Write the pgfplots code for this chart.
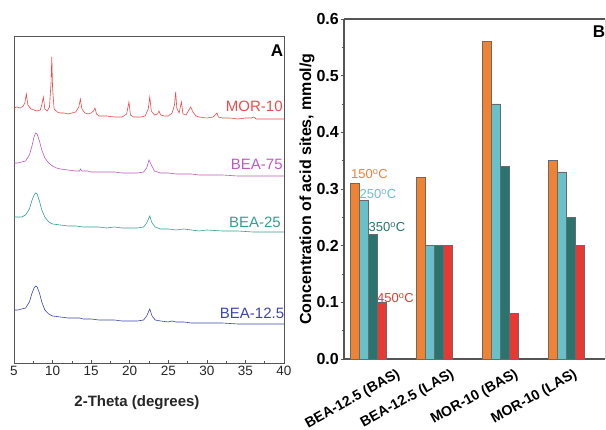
\documentclass[border=0pt]{standalone}
\usepackage{pgfplots}
\pgfplotsset{compat=1.18}
\usepackage{fontspec}
\setmainfont{Liberation Sans}
\definecolor{axgray}{HTML}{555555}
\definecolor{cmor}{HTML}{EB4B4B}
\definecolor{cb75}{HTML}{BE5ABE}
\definecolor{cb25}{HTML}{32A091}
\definecolor{cb12}{HTML}{3C46AA}
\definecolor{c150}{HTML}{F08232}
\definecolor{c250}{HTML}{68C0C8}
\definecolor{c350}{HTML}{2A7470}
\definecolor{c450}{HTML}{E83834}
\definecolor{bardraw}{HTML}{6A6A6A}
\begin{document}
\begin{tikzpicture}[x=1pt,y=1pt]
\useasboundingbox (0,0) rectangle (606,430);
% ---------------- Panel A ----------------
\begin{axis}[at={(14pt,67pt)}, anchor=south west, scale only axis,
  width=270pt, height=327pt,
  xmin=5, xmax=40, ymin=0, ymax=327,
  xtick={5,10,...,40}, minor x tick num=1, ytick=\empty,
  xtick pos=left, tick align=inside,
  major tick length=3pt, minor tick length=2pt,
  axis line style={draw=axgray, line width=0.9pt},
  tick style={draw=axgray, line width=0.6pt},
  /pgf/number format/assume math mode=true,
  xticklabel style={font=\fontsize{13.5}{14}\selectfont, text=black!85},
  clip=false]
\addplot[cmor, line width=0.6pt] coordinates {
(5.0,255)(5.4,256)(5.8,255)(6.2,257)(6.4,260)(6.6,269)(6.8,258)(7.2,254)(7.6,253)(8.0,252)
(8.4,253)(8.6,258)(8.8,266)(9.0,254)(9.3,252)(9.6,256)(9.8,280)(9.9,306)(10.0,275)(10.2,254)
(10.6,251)(11.0,250)(11.5,250)(12.0,249)(12.5,250)(13.0,251)(13.4,256)(13.6,264)(13.8,254)(14.2,250)
(14.6,249)(15.0,250)(15.3,252)(15.5,255)(15.7,249)(16.0,247)(17.0,247)(18.0,246)(19.0,246)(19.6,249)
(19.9,261)(20.1,248)(20.5,246)(21.0,246)(21.5,246)(22.0,247)(22.4,254)(22.6,266)(22.8,252)(23.2,248)
(23.6,249)(23.8,252)(24.0,248)(24.5,247)(25.0,247)(25.5,250)(25.8,258)(25.96,271)(26.1,255)(26.4,250)
(26.7,261)(26.9,249)(27.3,248)(27.6,252)(27.9,256)(28.2,251)(28.6,247)(29.0,246)(30.0,245)(30.8,246)
(31.1,248)(31.3,250)(31.5,246)(32.0,245)(33.0,245)(34.0,244)(35.0,245)(35.8,245)(36.1,246)(36.4,244)
(37.0,244)(38.0,244)(39.0,244)(40.0,244)};
\addplot[cb75, line width=0.6pt] coordinates {
(5.0,200)(5.5,200)(6.0,201)(6.5,202)(7.0,208)(7.3,216)(7.6,226)(7.8,230)(8.0,229)(8.3,222)
(8.6,213)(9.0,205)(9.5,200)(10.0,197)(10.5,195)(11.0,194)(12.0,193)(13.0,192)(13.5,192)(13.6,194)
(13.8,192)(14.5,192)(15.0,191)(16.0,191)(17.0,191)(18.0,191)(19.0,190)(20.0,190)(21.0,190)(21.8,191)
(22.2,195)(22.5,203)(22.8,198)(23.2,192)(24.0,190)(25.0,190)(26.0,189)(27.0,189)(28.0,189)(29.0,188)
(30.0,188)(32.0,188)(34.0,187)(36.0,187)(38.0,187)(40.0,187)};
\addplot[cb25, line width=0.6pt] coordinates {
(5.0,146)(5.5,146)(6.0,146)(6.5,148)(7.0,154)(7.3,162)(7.6,168)(7.8,170)(8.0,169)(8.3,162)
(8.6,153)(9.0,146)(9.5,141)(10.0,139)(11.0,138)(12.0,137)(13.0,137)(14.0,136)(15.0,136)(16.0,136)
(17.0,135)(18.0,136)(19.0,135)(20.0,135)(21.0,135)(21.8,136)(22.2,140)(22.6,147)(22.9,140)(23.3,136)
(24.0,134)(25.0,134)(26.0,133)(27.0,134)(28.0,133)(29.0,132)(30.0,133)(32.0,132)(34.0,132)(36.0,131)
(38.0,131)(40.0,131)};
\addplot[cb12, line width=0.6pt] coordinates {
(5.0,53)(5.5,53)(6.0,54)(6.5,55)(7.0,61)(7.3,69)(7.6,75)(7.8,77)(8.0,76)(8.3,70)
(8.6,61)(9.0,53)(9.5,49)(10.0,47)(11.0,46)(12.0,45)(13.0,45)(13.5,45)(14.0,44)(15.0,44)
(16.0,43)(17.0,43)(18.0,43)(19.0,42)(20.0,42)(21.0,42)(21.8,43)(22.2,47)(22.6,54)(22.9,47)
(23.3,43)(24.0,42)(25.0,41)(25.5,42)(26.0,41)(27.0,41)(28.0,40)(30.0,40)(32.0,40)(34.0,39)
(36.0,39)(38.0,39)(40.0,39)};
\node[anchor=east, text=cmor, font=\fontsize{15}{16}\selectfont, inner sep=0pt] at (axis cs:39.85,257) {MOR-10};
\node[anchor=east, text=cb75, font=\fontsize{15}{16}\selectfont, inner sep=0pt] at (axis cs:39.85,199) {BEA-75};
\node[anchor=east, text=cb25, font=\fontsize{15}{16}\selectfont, inner sep=0pt] at (axis cs:39.6,141) {BEA-25};
\node[anchor=east, text=cb12, font=\fontsize{15}{16}\selectfont, inner sep=0pt] at (axis cs:40.05,50) {BEA-12.5};
\end{axis}
\node[font=\bfseries\fontsize{17}{18}\selectfont] at (277,379) {A};
\node[font=\bfseries\fontsize{15}{16}\selectfont, text=black!85] at (137,27) {2-Theta (degrees)};
% ---------------- Panel B ----------------
\begin{axis}[at={(344pt,71pt)}, anchor=south west, scale only axis,
  width=261pt, height=340pt,
  xmin=-0.364, xmax=3.59, ymin=0, ymax=0.6,
  axis x line*=box, axis y line*=left,
  ytick={0,0.1,...,0.6}, minor y tick num=1,
  ytick pos=left, tick align=outside,
  major tick length=3.5pt, minor tick length=2.5pt,
  xtick={0.424,1.242,2.212,3.106},
  xticklabels={BEA-12.5 (BAS), BEA-12.5 (LAS), MOR-10 (BAS), MOR-10 (LAS)},
  x tick style={draw=none},
  axis line style={draw=axgray, line width=1.2pt},
  y tick style={draw=axgray, line width=0.7pt},
  /pgf/number format/assume math mode=true,
  /pgf/number format/fixed, /pgf/number format/fixed zerofill, /pgf/number format/precision=1,
  yticklabel style={font=\bfseries\fontsize{16}{17}\selectfont, inner sep=1.5pt},
  xticklabel style={font=\bfseries\fontsize{14.2}{15}\selectfont, inner sep=0.5pt, yshift=-4.5pt, rotate=29, anchor=north east},
  clip=false]
\addplot[ybar, bar width=9pt, bar shift=-13.5pt, fill=c150, draw=bardraw, line width=0.4pt] coordinates {(0,0.31) (1,0.32) (2,0.56) (3,0.35)};
\addplot[ybar, bar width=9pt, bar shift=-4.5pt, fill=c250, draw=bardraw, line width=0.4pt] coordinates {(0,0.28) (1,0.20) (2,0.45) (3,0.33)};
\addplot[ybar, bar width=9pt, bar shift=4.5pt, fill=c350, draw=bardraw, line width=0.4pt] coordinates {(0,0.22) (1,0.20) (2,0.34) (3,0.25)};
\addplot[ybar, bar width=9pt, bar shift=13.5pt, fill=c450, draw=bardraw, line width=0.4pt] coordinates {(0,0.10) (1,0.20) (2,0.08) (3,0.20)};
\draw[gray!35, line width=0.6pt] (rel axis cs:1,0) -- (rel axis cs:1,1);
\node[text=c150, font=\fontsize{13}{14}\selectfont, inner sep=0pt] at (axis cs:0.023,0.3265) {150\textsuperscript{o}C};
\node[text=c250, font=\fontsize{13}{14}\selectfont, inner sep=0pt] at (axis cs:0.152,0.291) {250\textsuperscript{o}C};
\node[text=c350, font=\fontsize{13}{14}\selectfont, inner sep=0pt] at (axis cs:0.288,0.233) {350\textsuperscript{o}C};
\node[text=c450, font=\fontsize{13}{14}\selectfont, inner sep=0pt] at (axis cs:0.417,0.108) {450\textsuperscript{o}C};
\end{axis}
\node[rotate=90, font=\bfseries\fontsize{16}{17}\selectfont] at (307,241) {Concentration of acid sites, mmol/g};
\node[font=\bfseries\fontsize{17}{18}\selectfont] at (599,398.5) {B};
\end{tikzpicture}
\end{document}
